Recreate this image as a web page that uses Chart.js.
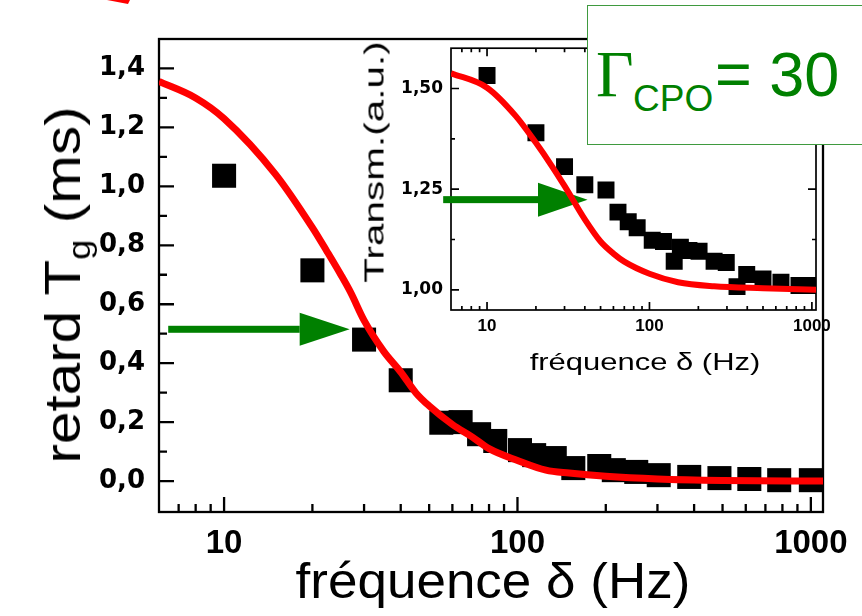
<!DOCTYPE html>
<html>
<head>
<meta charset="utf-8">
<script src="https://cdn.jsdelivr.net/npm/chart.js@4.4.1/dist/chart.umd.min.js"></script>
<style>
  html, body { margin: 0; padding: 0; background: #fff; }
  #wrap { position: relative; width: 862px; height: 616px; overflow: hidden; font-family: "Liberation Sans", Arial, sans-serif; }
  #mainChart { position: absolute; left: 0; top: 0; }
  #insetChart { position: absolute; left: 360px; top: 30px; }
  .title { position: absolute; white-space: nowrap; line-height: 1; color: #000; }
  .title sub { font-size: 0.62em; vertical-align: -0.32em; line-height: 0; }
  #gammaBox { position: absolute; left: 587px; top: 5px; width: 320px; height: 138px; border: 1px solid #3f9a3f; background: #fff; color: #008000; }
  #gammaBox span { position: absolute; white-space: nowrap; line-height: 1; }
</style>
</head>
<body>
<div id="wrap">
  <canvas id="mainChart" width="862" height="616"></canvas>
  <canvas id="insetChart" width="480" height="370"></canvas>

  <div class="title" style="left:63px; top:285px; font-size:50px; transform: translate(-50%,-50%) rotate(-90deg) scaleX(1.17);">retard T<sub>g</sub> (ms)</div>
  <div class="title" style="left:493px; top:556px; font-size:50px; transform: translateX(-50%) scaleX(1.06);">fréquence δ (Hz)</div>
  <div class="title" style="left:375px; top:162px; font-size:27px; transform: translate(-50%,-50%) rotate(-90deg) scaleX(1.5);">Transm.(a.u.)</div>
  <div class="title" style="left:645px; top:350px; font-size:24px; transform: translateX(-50%) scaleX(1.29);">fréquence δ (Hz)</div>

  <div id="gammaBox">
    <span style="left:8px; top:36px; font-size:65px; font-family:'Liberation Serif', serif;">Γ</span>
    <span style="left:45px; top:74px; font-size:37px;">CPO</span>
    <span style="left:127px; top:37px; font-size:63px;">= 30</span>
  </div>

  <svg style="position:absolute; left:0; top:0;" width="862" height="20">
    <polygon points="107,0 130,0 128,4" fill="#ff0000"/>
  </svg>
</div>

<script>
// main plot: group delay vs modulation frequency
const mainFreq  = [10, 20, 30, 40, 55, 64, 74, 84, 102, 114, 134, 155, 190, 213, 254, 303, 385, 488, 617, 780, 1000];
const mainDelay = [1.036, 0.715, 0.48, 0.342, 0.198, 0.2, 0.159, 0.136, 0.105, 0.088, 0.078, 0.044, 0.051, 0.037, 0.031, 0.02, 0.014, 0.01, 0.007, 0.003, 0.003];
const fitFreq   = [6, 8, 10, 15, 20, 22.4, 25, 27, 30, 35, 40, 45, 50, 60, 70, 80, 100, 125, 150, 200, 300, 500, 1100];
const fitDelay  = [1.356, 1.30, 1.23, 1.04, 0.86, 0.78, 0.70, 0.64, 0.545, 0.44, 0.37, 0.30, 0.255, 0.192, 0.15, 0.11, 0.07, 0.037, 0.027, 0.016, 0.007, 0.002, 0.0];

// inset: transmission vs frequency
const insetFreq  = [10, 20, 30, 40, 54, 64, 74, 84, 104, 122, 142, 155, 175, 202, 250, 297, 346, 397, 500, 645, 833, 1000];
const insetTrans = [1.532, 1.39, 1.306, 1.261, 1.248, 1.193, 1.169, 1.154, 1.123, 1.12, 1.071, 1.106, 1.098, 1.096, 1.071, 1.068, 1.008, 1.038, 1.027, 1.019, 1.011, 1.011];
const insetFitFreq  = [6, 10, 15, 20, 25, 30, 40, 50, 60, 70, 100, 150, 250, 500, 1060];
const insetFitTrans = [1.538, 1.502, 1.432, 1.365, 1.308, 1.258, 1.175, 1.12, 1.09, 1.07, 1.04, 1.019, 1.009, 1.004, 1.0];

// ticks
const xTicks = [10, 100, 1000];
const xMinor = [7, 8, 9, 20, 30, 40, 50, 60, 70, 80, 90, 200, 300, 400, 500, 600, 700, 800, 900];
const mainYTicks = [0, 0.2, 0.4, 0.6, 0.8, 1.0, 1.2, 1.4];
const mainYMinor = [0.1, 0.3, 0.5, 0.7, 0.9, 1.1, 1.3];
const insetYTicks = [1.0, 1.25, 1.5];
const insetYMinor = [1.125, 1.375];

// green arrows (freq from, head base, tip ; y value)
const mainArrow  = { from: 6.45, base: 18.1, to: 26.8, y: 0.515 };
const insetArrow = { from: 5.37, base: 20.6, to: 41.6, y: 1.224 };

const toPts = (xs, ys) => xs.map((x, i) => ({ x: x, y: ys[i] }));

function drawArrow(chart, arr, shaft, half) {
    const ctx = chart.ctx;
    const sx = chart.scales.x, sy = chart.scales.y;
    const x0 = sx.getPixelForValue(arr.from);
    const xb = sx.getPixelForValue(arr.base);
    const x1 = sx.getPixelForValue(arr.to);
    const y = sy.getPixelForValue(arr.y);
    ctx.save();
    ctx.fillStyle = '#008000';
    ctx.fillRect(x0, y - shaft / 2, xb - x0, shaft);
    ctx.beginPath();
    ctx.moveTo(xb, y - half);
    ctx.lineTo(x1, y);
    ctx.lineTo(xb, y + half);
    ctx.closePath();
    ctx.fill();
    ctx.restore();
}

// frame + inward ticks, arrow
function framePlugin(cfg) {
    return {
        id: 'frame',
        beforeDatasetsDraw(chart) {
            const ctx = chart.ctx, a = chart.chartArea;
            const sx = chart.scales.x, sy = chart.scales.y;
            ctx.save();
            ctx.strokeStyle = '#000';
            ctx.lineWidth = cfg.lineWidth;
            ctx.beginPath();
            const tickX = (v, len) => {
                const px = sx.getPixelForValue(v);
                ctx.moveTo(px, a.bottom); ctx.lineTo(px, a.bottom - len);
                if (cfg.allSides) { ctx.moveTo(px, a.top); ctx.lineTo(px, a.top + len); }
            };
            const tickY = (v, len) => {
                const py = sy.getPixelForValue(v);
                ctx.moveTo(a.left, py); ctx.lineTo(a.left + len, py);
                if (cfg.allSides) { ctx.moveTo(a.right, py); ctx.lineTo(a.right - len, py); }
            };
            xTicks.forEach(v => tickX(v, cfg.major));
            xMinor.forEach(v => tickX(v, cfg.minor));
            cfg.yMajor.forEach(v => tickY(v, cfg.major));
            cfg.yMinor.forEach(v => tickY(v, cfg.minor));
            ctx.stroke();
            ctx.strokeRect(a.left, a.top, a.right - a.left, a.bottom - a.top);
            ctx.restore();
            if (!cfg.arrowOnTop) drawArrow(chart, cfg.arrow, cfg.shaft, cfg.half);
        },
        afterDatasetsDraw(chart) {
            if (cfg.arrowOnTop) drawArrow(chart, cfg.arrow, cfg.shaft, cfg.half);
        }
    };
}

const mainChart = new Chart(document.getElementById('mainChart'), {
    type: 'scatter',
    data: {
        datasets: [{
            data: toPts(fitFreq, fitDelay),
            showLine: true,
            borderColor: '#ff0000',
            borderWidth: 7,
            borderJoinStyle: 'round',
            pointRadius: 0,
            cubicInterpolationMode: 'monotone',
            clip: 0
        }, {
            data: toPts(mainFreq, mainDelay),
            pointStyle: 'rect',
            pointRadius: 17,
            pointBackgroundColor: '#000',
            pointBorderWidth: 0,
            clip: 0
        }]
    },
    options: {
        responsive: false,
        animation: false,
        events: [],
        layout: { padding: { left: 0, top: 39, right: 39, bottom: 0 } },
        plugins: { legend: { display: false }, tooltip: { enabled: false } },
        scales: {
            x: {
                type: 'logarithmic',
                min: 6,
                max: 1100,
                grid: { display: false, drawTicks: false },
                border: { display: false },
                afterBuildTicks: s => { s.ticks = xTicks.map(v => ({ value: v })); },
                afterFit: s => { s.height = 104; },
                ticks: {
                    autoSkip: false,
                    maxRotation: 0,
                    padding: 12,
                    color: '#000',
                    font: { family: 'Liberation Sans', size: 33, weight: 'bold' },
                    callback: v => String(v)
                }
            },
            y: {
                min: -0.105,
                max: 1.5,
                grid: { display: false, drawTicks: false },
                border: { display: false },
                afterBuildTicks: s => { s.ticks = mainYTicks.map(v => ({ value: v })); },
                afterFit: s => { s.width = 159; },
                ticks: {
                    padding: 14,
                    color: '#000',
                    font: { family: 'DejaVu Sans', size: 26, weight: 'bold' },
                    callback: v => v.toFixed(1).replace('.', ',')
                }
            }
        }
    },
    plugins: [framePlugin({
        lineWidth: 2.3, major: 15, minor: 8, allSides: false,
        yMajor: mainYTicks, yMinor: mainYMinor,
        arrow: mainArrow, shaft: 7, half: 16.5, arrowOnTop: true
    })]
});

const insetChart = new Chart(document.getElementById('insetChart'), {
    type: 'scatter',
    data: {
        datasets: [{
            data: toPts(insetFitFreq, insetFitTrans),
            showLine: true,
            borderColor: '#ff0000',
            borderWidth: 6,
            borderJoinStyle: 'round',
            pointRadius: 0,
            cubicInterpolationMode: 'monotone',
            clip: 0
        }, {
            data: toPts(insetFreq, insetTrans),
            pointStyle: 'rect',
            pointRadius: 12,
            pointBackgroundColor: '#000',
            pointBorderWidth: 0,
            clip: 0
        }]
    },
    options: {
        responsive: false,
        animation: false,
        events: [],
        layout: { padding: { left: 0, top: 11, right: 24, bottom: 0 } },
        plugins: { legend: { display: false }, tooltip: { enabled: false } },
        scales: {
            x: {
                type: 'logarithmic',
                min: 6,
                max: 1060,
                grid: { display: false, drawTicks: false },
                border: { display: false },
                afterBuildTicks: s => { s.ticks = xTicks.map(v => ({ value: v })); },
                afterFit: s => { s.height = 90; },
                ticks: {
                    autoSkip: false,
                    maxRotation: 0,
                    padding: 6,
                    color: '#000',
                    font: { family: 'Liberation Sans', size: 17, weight: 'bold' },
                    callback: v => String(v)
                }
            },
            y: {
                min: 0.95,
                max: 1.6,
                grid: { display: false, drawTicks: false },
                border: { display: false },
                afterBuildTicks: s => { s.ticks = insetYTicks.map(v => ({ value: v })); },
                afterFit: s => { s.width = 91; },
                ticks: {
                    padding: 8,
                    color: '#000',
                    font: { family: 'DejaVu Sans', size: 17, weight: 'bold' },
                    callback: v => v.toFixed(2).replace('.', ',')
                }
            }
        }
    },
    plugins: [framePlugin({
        lineWidth: 1.7, major: 8, minor: 4, allSides: true,
        yMajor: insetYTicks, yMinor: insetYMinor,
        arrow: insetArrow, shaft: 7, half: 17, arrowOnTop: false
    })]
});
</script>
</body>
</html>
